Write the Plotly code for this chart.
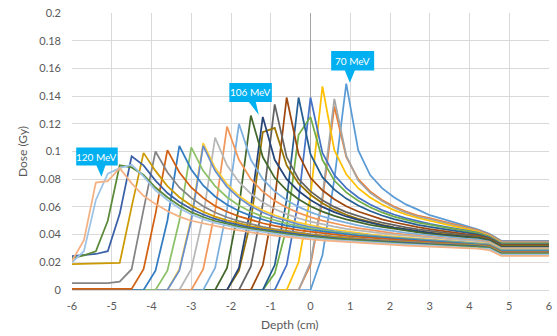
import plotly.graph_objects as go

# ---------------- data ----------------
DEPTH_CM = [-6.0, -5.7, -5.4, -5.1, -4.8, -4.5, -4.2, -3.9, -3.6, -3.3, -3.0,
            -2.7, -2.4, -2.1, -1.8, -1.5, -1.2, -0.9, -0.6, -0.3, 0.0,
            0.3, 0.6, 0.9, 1.2, 1.5, 1.8, 2.1, 2.4, 2.7, 3.0,
            3.3, 3.6, 3.9, 4.2, 4.5, 4.8, 5.1, 5.4, 5.7, 6.0]

DOSE_01 = [0, 0, 0, 0, 0, 0, 0, 0, 0, 0, 0, 0, 0, 0, 0, 0, 0, 0, 0, 0, 0,
           0.025, 0.080, 0.149, 0.101, 0.083, 0.0735, 0.067, 0.0618, 0.058, 0.054,
           0.0515, 0.049, 0.0465, 0.0438, 0.0405, 0.0355, 0.0355, 0.0355, 0.0355, 0.0355]
DOSE_02 = [0, 0, 0, 0, 0, 0, 0, 0, 0, 0, 0, 0, 0, 0, 0, 0, 0, 0, 0, 0,
           0.018, 0.065, 0.1325, 0.096, 0.080, 0.0712, 0.065, 0.0603, 0.0566, 0.0538, 0.052,
           0.0497, 0.0475, 0.0455, 0.0432, 0.040, 0.035, 0.035, 0.035, 0.035, 0.035]
DOSE_03 = [0, 0, 0, 0, 0, 0, 0, 0, 0, 0, 0, 0, 0, 0, 0, 0, 0, 0, 0, 0,
           0.020, 0.068, 0.138, 0.097, 0.079, 0.0702, 0.0642, 0.0596, 0.0559, 0.053, 0.0512,
           0.049, 0.0468, 0.0449, 0.0427, 0.0395, 0.0345, 0.0345, 0.0345, 0.0345, 0.0345]
DOSE_04 = [0, 0, 0, 0, 0, 0, 0, 0, 0, 0, 0, 0, 0, 0, 0, 0, 0, 0, 0,
           0.020, 0.068, 0.147, 0.101, 0.0835, 0.0735, 0.0668, 0.0617, 0.0577, 0.0545, 0.052, 0.050,
           0.0481, 0.046, 0.0442, 0.0422, 0.039, 0.034, 0.034, 0.034, 0.034, 0.034]
DOSE_05 = [0, 0, 0, 0, 0, 0, 0, 0, 0, 0, 0, 0, 0, 0, 0, 0, 0, 0,
           0.018, 0.065, 0.139, 0.099, 0.083, 0.0735, 0.0668, 0.0617, 0.0577, 0.0545, 0.0519, 0.0497, 0.0478,
           0.0462, 0.0445, 0.043, 0.0414, 0.0385, 0.0336, 0.0336, 0.0336, 0.0336, 0.0336]
DOSE_06 = [0, 0, 0, 0, 0, 0, 0, 0, 0, 0, 0, 0, 0, 0, 0, 0, 0,
           0.012, 0.045, 0.112, 0.125, 0.094, 0.079, 0.0705, 0.0645, 0.0598, 0.056, 0.053, 0.0506, 0.0487, 0.0472,
           0.0456, 0.044, 0.0425, 0.041, 0.038, 0.0332, 0.0332, 0.0332, 0.0332, 0.0332]
DOSE_07 = [0, 0, 0, 0, 0, 0, 0, 0, 0, 0, 0, 0, 0, 0, 0, 0, 0,
           0.018, 0.065, 0.139, 0.098, 0.0815, 0.0725, 0.066, 0.061, 0.057, 0.0538, 0.0512, 0.049, 0.0471, 0.0455,
           0.0441, 0.0427, 0.0414, 0.0402, 0.0376, 0.0328, 0.0328, 0.0328, 0.0328, 0.0328]
DOSE_08 = [0, 0, 0, 0, 0, 0, 0, 0, 0, 0, 0, 0, 0, 0, 0, 0,
           0.018, 0.065, 0.139, 0.098, 0.081, 0.072, 0.0655, 0.0605, 0.0567, 0.0536, 0.051, 0.0489, 0.047, 0.0454, 0.044,
           0.0427, 0.0415, 0.0404, 0.0394, 0.0372, 0.0324, 0.0324, 0.0324, 0.0324, 0.0324]
DOSE_09 = [0, 0, 0, 0, 0, 0, 0, 0, 0, 0, 0, 0, 0, 0, 0,
           0.017, 0.062, 0.134, 0.096, 0.080, 0.0712, 0.0648, 0.060, 0.0562, 0.0532, 0.0507, 0.0486, 0.0468, 0.0452, 0.0438, 0.0426,
           0.0415, 0.0405, 0.0396, 0.0388, 0.0368, 0.032, 0.032, 0.032, 0.032, 0.032]
DOSE_10 = [0, 0, 0, 0, 0, 0, 0, 0, 0, 0, 0, 0, 0, 0,
           0.014, 0.050, 0.114, 0.117, 0.090, 0.077, 0.0688, 0.0627, 0.058, 0.0543, 0.0514, 0.049, 0.047, 0.0453, 0.0438, 0.0425, 0.0414,
           0.0404, 0.0395, 0.0387, 0.0381, 0.0364, 0.0316, 0.0316, 0.0316, 0.0316, 0.0316]
DOSE_11 = [0, 0, 0, 0, 0, 0, 0, 0, 0, 0, 0, 0, 0, 0,
           0.016, 0.060, 0.125, 0.094, 0.080, 0.0715, 0.065, 0.060, 0.0562, 0.0531, 0.0506, 0.0485, 0.0467, 0.0451, 0.0437, 0.0423, 0.041,
           0.040, 0.0392, 0.0384, 0.0377, 0.036, 0.0312, 0.0312, 0.0312, 0.0312, 0.0312]
DOSE_12 = [0, 0, 0, 0, 0, 0, 0, 0, 0, 0, 0, 0, 0,
           0.016, 0.060, 0.126, 0.096, 0.081, 0.072, 0.0655, 0.0605, 0.0566, 0.0535, 0.051, 0.0489, 0.0471, 0.0455, 0.0441, 0.0428, 0.0416, 0.0404,
           0.0395, 0.0387, 0.0379, 0.0372, 0.0356, 0.0308, 0.0308, 0.0308, 0.0308, 0.0308]
DOSE_13 = [0, 0, 0, 0, 0, 0, 0, 0, 0, 0, 0, 0,
           0.016, 0.058, 0.120, 0.094, 0.080, 0.0712, 0.0648, 0.060, 0.0562, 0.0531, 0.0506, 0.0485, 0.0467, 0.0451, 0.0437, 0.0424, 0.0413, 0.0403, 0.0394,
           0.0386, 0.0378, 0.0371, 0.0365, 0.035, 0.0304, 0.0304, 0.0304, 0.0304, 0.0304]
DOSE_14 = [0, 0, 0, 0, 0, 0, 0, 0, 0, 0, 0,
           0.015, 0.057, 0.118, 0.094, 0.080, 0.071, 0.0645, 0.0595, 0.0557, 0.0526, 0.0501, 0.048, 0.0462, 0.0446, 0.0432, 0.042, 0.0409, 0.0399, 0.039, 0.0382,
           0.0375, 0.0368, 0.0362, 0.0357, 0.0345, 0.030, 0.030, 0.030, 0.030, 0.030]
DOSE_15 = [0, 0, 0, 0, 0, 0, 0, 0, 0, 0,
           0.015, 0.053, 0.110, 0.090, 0.078, 0.0695, 0.0633, 0.0585, 0.0548, 0.0518, 0.0494, 0.0474, 0.0457, 0.0442, 0.0429, 0.0418, 0.0408, 0.0399, 0.0391, 0.0383, 0.0376,
           0.037, 0.0363, 0.0358, 0.0353, 0.0341, 0.0296, 0.0296, 0.0296, 0.0296, 0.0296]
DOSE_16 = [0, 0, 0, 0, 0, 0, 0, 0, 0,
           0.015, 0.052, 0.106, 0.088, 0.0765, 0.068, 0.062, 0.0575, 0.054, 0.051, 0.0487, 0.0467, 0.045, 0.0436, 0.0423, 0.0412, 0.0402, 0.0393, 0.0385, 0.0378, 0.0371, 0.0365,
           0.0359, 0.0354, 0.0349, 0.0344, 0.0334, 0.0292, 0.0292, 0.0292, 0.0292, 0.0292]
DOSE_17 = [0, 0, 0, 0, 0, 0, 0, 0, 0,
           0.014, 0.050, 0.104, 0.086, 0.0745, 0.0665, 0.0605, 0.056, 0.0525, 0.0497, 0.0474, 0.0455, 0.0439, 0.0425, 0.0413, 0.0402, 0.0393, 0.0385, 0.0378, 0.0371, 0.0365, 0.0359,
           0.0354, 0.0349, 0.0344, 0.034, 0.033, 0.0288, 0.0288, 0.0288, 0.0288, 0.0288]
DOSE_18 = [0, 0, 0, 0, 0, 0, 0, 0,
           0.014, 0.050, 0.103, 0.086, 0.075, 0.067, 0.061, 0.0565, 0.053, 0.0503, 0.048, 0.0461, 0.0445, 0.0431, 0.0419, 0.0408, 0.0398, 0.0389, 0.0381, 0.0374, 0.0367, 0.0361, 0.0355,
           0.035, 0.0345, 0.034, 0.0336, 0.0326, 0.0284, 0.0284, 0.0284, 0.0284, 0.0284]
DOSE_19 = [0, 0, 0, 0, 0, 0, 0,
           0.014, 0.050, 0.104, 0.087, 0.0755, 0.0675, 0.0615, 0.057, 0.0535, 0.0507, 0.0484, 0.0465, 0.0449, 0.0435, 0.0423, 0.0412, 0.0402, 0.0393, 0.0385, 0.0378, 0.0371, 0.0365, 0.0359, 0.0353,
           0.0347, 0.0342, 0.0337, 0.0332, 0.0322, 0.028, 0.028, 0.028, 0.028, 0.028]
DOSE_20 = [0.0008, 0.0008, 0.0008, 0.0008, 0.0008, 0.0008,
           0.015, 0.055, 0.101, 0.085, 0.074, 0.0665, 0.0607, 0.0565, 0.0532, 0.0505, 0.0482, 0.0463, 0.0447, 0.0433, 0.0421, 0.041, 0.040, 0.0391, 0.0383, 0.0376, 0.0369, 0.0363, 0.0357, 0.0351, 0.0346,
           0.0341, 0.0336, 0.0332, 0.0328, 0.0318, 0.0276, 0.0276, 0.0276, 0.0276, 0.0276]
DOSE_21 = [0.005, 0.005, 0.005, 0.005, 0.006,
           0.015, 0.058, 0.100, 0.085, 0.074, 0.0665, 0.0605, 0.056, 0.0525, 0.0497, 0.0475, 0.0456, 0.044, 0.0427, 0.0415, 0.0404, 0.0395, 0.0386, 0.0379, 0.0372, 0.0366, 0.036, 0.0354, 0.0349, 0.0344, 0.0339,
           0.0335, 0.0331, 0.0327, 0.0324, 0.0314, 0.0272, 0.0272, 0.0272, 0.0272, 0.0272]
DOSE_22 = [0.0187, 0.0188, 0.019, 0.0192, 0.0195,
           0.060, 0.099, 0.086, 0.075, 0.067, 0.061, 0.0565, 0.053, 0.0503, 0.048, 0.0461, 0.0445, 0.0431, 0.0419, 0.0408, 0.0398, 0.0389, 0.0381, 0.0374, 0.0367, 0.0361, 0.0355, 0.035, 0.0345, 0.034, 0.0335,
           0.0331, 0.0327, 0.0323, 0.032, 0.031, 0.0268, 0.0268, 0.0268, 0.0268, 0.0268]
DOSE_23 = [0.0245, 0.025, 0.026, 0.028, 0.055,
           0.0966, 0.090, 0.079, 0.070, 0.0635, 0.0585, 0.0545, 0.0513, 0.0488, 0.0468, 0.0451, 0.0436, 0.0423, 0.0411, 0.0401, 0.0392, 0.0383, 0.0375, 0.0368, 0.0362, 0.0356, 0.035, 0.0345, 0.034, 0.0335, 0.0331,
           0.0327, 0.0323, 0.0319, 0.0316, 0.0306, 0.0264, 0.0264, 0.0264, 0.0264, 0.0264]
DOSE_24 = [0.023, 0.025, 0.028, 0.050, 0.090,
           0.0885, 0.083, 0.074, 0.067, 0.061, 0.0562, 0.0527, 0.0498, 0.0476, 0.0457, 0.0441, 0.0427, 0.0414, 0.0403, 0.0393, 0.0384, 0.0376, 0.0368, 0.0362, 0.0356, 0.035, 0.0345, 0.034, 0.0335, 0.033, 0.0326,
           0.0322, 0.0318, 0.0315, 0.0312, 0.0302, 0.026, 0.026, 0.026, 0.026, 0.026]
DOSE_25 = [0.020, 0.028, 0.065, 0.084, 0.088,
           0.0905, 0.082, 0.072, 0.065, 0.059, 0.0545, 0.0512, 0.0485, 0.0465, 0.0447, 0.0432, 0.0418, 0.0406, 0.0395, 0.0385, 0.0376, 0.0368, 0.0361, 0.0355, 0.0349, 0.0344, 0.0339, 0.0334, 0.0329, 0.0325, 0.0321,
           0.0317, 0.0313, 0.031, 0.0306, 0.0297, 0.0255, 0.0255, 0.0255, 0.0255, 0.0255]
DOSE_26 = [0.021, 0.036, 0.0775, 0.0786, 0.088,
           0.077, 0.068, 0.062, 0.057, 0.053, 0.050, 0.048, 0.046, 0.0445, 0.043, 0.0415, 0.0403, 0.0392, 0.0382, 0.0373, 0.0365, 0.0358, 0.0352, 0.0346, 0.0341, 0.0336, 0.0331, 0.0326, 0.0321, 0.0317, 0.0313,
           0.0309, 0.0305, 0.0301, 0.0298, 0.0287, 0.0247, 0.0247, 0.0247, 0.0247, 0.0247]

SERIES = [DOSE_01, DOSE_02, DOSE_03, DOSE_04, DOSE_05, DOSE_06, DOSE_07, DOSE_08, DOSE_09,
          DOSE_10, DOSE_11, DOSE_12, DOSE_13, DOSE_14, DOSE_15, DOSE_16, DOSE_17, DOSE_18,
          DOSE_19, DOSE_20, DOSE_21, DOSE_22, DOSE_23, DOSE_24, DOSE_25, DOSE_26]
SERIES_NAMES = ["70 MeV", "72 MeV", "74 MeV", "76 MeV", "78 MeV", "80 MeV", "82 MeV",
                "84 MeV", "86 MeV", "88 MeV", "90 MeV", "92 MeV", "94 MeV", "96 MeV",
                "98 MeV", "100 MeV", "102 MeV", "104 MeV", "106 MeV", "108 MeV",
                "110 MeV", "112 MeV", "114 MeV", "116 MeV", "118 MeV", "120 MeV"]
COLORS = ["#5B9BD5", "#ED7D31", "#A5A5A5", "#FFC000", "#4472C4", "#70AD47",
          "#255E91", "#9E480E", "#636363", "#997300", "#264478", "#43682B",
          "#7CAFDD", "#F1975A", "#B7B7B7", "#FFCD33", "#698ED0", "#8CC168",
          "#327DC2", "#D26012", "#848484", "#CC9A00", "#3A5FA6", "#5A8A39",
          "#9DC3E6", "#F4B183"]

X_TICKS = [-6, -5, -4, -3, -2, -1, 0, 1, 2, 3, 4, 5, 6]
X_TICK_TEXT = ["-6", "-5", "-4", "-3", "-2", "-1", "0", "1", "2", "3", "4", "5", "6"]
Y_TICKS = [0, 0.02, 0.04, 0.06, 0.08, 0.1, 0.12, 0.14, 0.16, 0.18, 0.2]
Y_TICK_TEXT = ["0", "0.02", "0.04", "0.06", "0.08", "0.1", "0.12", "0.14", "0.16", "0.18", "0.2"]

CALLOUT_TEXT = ["70 MeV", "106 MeV", "120 MeV"]
CALLOUT_X = [0.99, -1.3, -5.26]
CALLOUT_Y = [0.1497, 0.1264, 0.0818]

# ---------------- styling ----------------
FONT = "Lato, 'Open Sans', sans-serif"
TEXT_COLOR = "#595959"
GRID = "#D9D9D9"
CALLOUT_FILL = "#00B0F0"
# callout geometry in pixels relative to the pointer tip: box x0, x1, y0(bottom), y1(top), wedge x0, x1
CALLOUT_GEOM = [(-18.7, 24.3, 12.2, 31.7, -5, 5),
                (-29.5, 13.0, 13.0, 32.0, -10, -3),
                (-25.2, 16.3, 11.2, 29.2, -5, 4)]

fig = go.Figure()
for vals, name, col in zip(SERIES, SERIES_NAMES, COLORS):
    fig.add_trace(go.Scatter(x=DEPTH_CM, y=vals, mode="lines", name=name,
                             line=dict(color=col, width=1.75), showlegend=False,
                             hoverinfo="skip"))

shapes = []
annotations = []
for txt, cx, cy, g in zip(CALLOUT_TEXT, CALLOUT_X, CALLOUT_Y, CALLOUT_GEOM):
    bx0, bx1, by0, by1, wx0, wx1 = g
    path = (f"M {bx0},{by0} L {wx0},{by0} L 0,0 L {wx1},{by0} L {bx1},{by0} "
            f"L {bx1},{by1} L {bx0},{by1} Z")
    shapes.append(dict(type="path", xref="x", yref="y", xsizemode="pixel", ysizemode="pixel",
                       xanchor=cx, yanchor=cy, path=path, fillcolor=CALLOUT_FILL,
                       line=dict(width=0), layer="above"))
    annotations.append(dict(x=cx, y=cy, xref="x", yref="y", text=txt, showarrow=False,
                            xshift=(bx0 + bx1) / 2, yshift=(by0 + by1) / 2,
                            xanchor="center", yanchor="middle",
                            font=dict(family=FONT, size=10, color="white")))

annotations.append(dict(x=0.4577, y=-0.126, xref="paper", yref="paper", text="Depth (cm)",
                        showarrow=False, xanchor="center", yanchor="middle",
                        font=dict(family=FONT, size=12, color=TEXT_COLOR)))
annotations.append(dict(x=-0.1048, y=0.498, xref="paper", yref="paper", text="Dose (Gy)",
                        showarrow=False, xanchor="center", yanchor="middle", textangle=-90,
                        font=dict(family=FONT, size=12, color=TEXT_COLOR)))

fig.update_layout(
    width=557, height=336,
    margin=dict(l=72, r=5, t=13, b=46),
    paper_bgcolor="white", plot_bgcolor="white",
    shapes=shapes, annotations=annotations,
    xaxis=dict(range=[-6, 6], tickvals=X_TICKS, ticktext=X_TICK_TEXT,
               showgrid=True, gridcolor=GRID, gridwidth=1,
               zeroline=True, zerolinecolor="#A6A6A6", zerolinewidth=1,
               showline=False, ticks="", ticklabelstandoff=8,
               tickfont=dict(family=FONT, size=11, color=TEXT_COLOR)),
    yaxis=dict(range=[0, 0.2], tickvals=Y_TICKS, ticktext=Y_TICK_TEXT,
               showgrid=True, gridcolor=GRID, gridwidth=1,
               zeroline=True, zerolinecolor=GRID, zerolinewidth=1,
               showline=False, ticks="", ticklabelstandoff=10,
               tickfont=dict(family=FONT, size=11, color=TEXT_COLOR)),
)

# remove the browser's default 8px body margin so the figure sits at the page origin
fig.write_html("out.html", config={"displayModeBar": False, "staticPlot": True},
               post_script="document.body.style.margin='0px';document.body.style.overflow='hidden';")
